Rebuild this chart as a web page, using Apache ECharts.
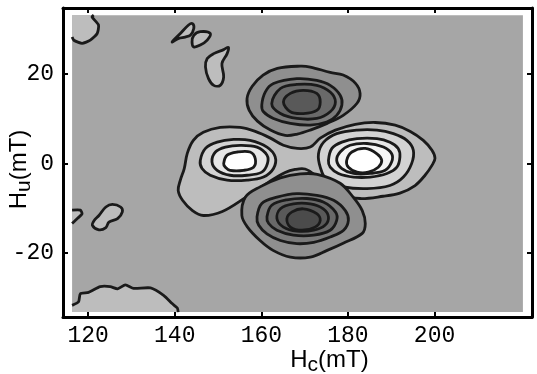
<!DOCTYPE html>
<html>
<head>
<meta charset="utf-8">
<script src="https://cdn.jsdelivr.net/npm/echarts@6/dist/echarts.min.js"></script>
<style>
  html, body { margin: 0; padding: 0; background: #fff; }
  #chart { width: 537px; height: 374px; }
</style>
</head>
<body>
<div id="chart"></div>
<script>
// axis ticks
const xTicks = [120, 140, 160, 180, 200]
const yTicks = [-20, 0, 20]

// extent of the mapped region [Hc], [Hu]
const fieldX = [116.3, 220.4]
const fieldY = [-33.2, 33.2]

// contour outlines, points are [Hc, Hu] in mT
const lightOuter = [[140.8,-6.0],[141.3,-3.7],[142.2,-1.1],[142.9,2.3],[144.3,5.2],[146.6,7.0],[150.5,8.1],[155.1,8.1],[158.6,7.2],[162.1,5.7],[165.1,4.1],[168.3,3.4],[171.3,3.7],[173.6,5.7],[177.1,7.5],[181.7,8.8],[186.3,9.2],[190.9,8.6],[194.4,7.2],[197.4,5.2],[199.4,3.0],[200.1,1.2],[199.4,-0.4],[197.8,-2.6],[195.5,-4.9],[192.0,-6.6],[188.1,-7.3],[182.8,-7.8],[178.2,-6.9],[174.7,-5.1],[172.4,-2.6],[170.1,-1.2],[167.8,-1.3],[165.5,-2.0],[161.6,-4.2],[156.3,-7.6],[151.0,-10.7],[146.6,-11.6],[144.1,-10.5],[141.8,-8.2]]

const leftRing2 = [[145.9,0.7],[147.1,3.4],[149.8,4.8],[153.6,5.4],[157.4,5.2],[161.3,3.7],[163.2,1.5],[162.8,-1.1],[160.5,-3.0],[156.7,-3.7],[152.1,-3.7],[148.2,-2.6],[146.3,-1.1]]
const leftRing3 = [[148.6,0.4],[149.4,2.6],[151.7,3.7],[155.1,4.1],[159.0,3.7],[161.3,1.9],[161.4,0.0],[160.1,-1.9],[156.7,-2.6],[152.8,-2.6],[149.8,-1.5]]
const leftCore = [[151.3,0.0],[152.1,1.9],[154.4,2.6],[157.4,2.6],[158.6,1.1],[158.2,-0.8],[155.9,-1.5],[152.8,-1.5],[151.7,-0.8]]

const rightRing2 = [[173.2,2.2],[174.4,4.8],[177.4,6.7],[182.1,7.5],[186.7,7.5],[190.5,6.7],[193.6,5.2],[195.1,3.0],[194.7,0.0],[192.8,-3.0],[189.7,-4.9],[184.4,-5.6],[179.0,-5.2],[175.1,-3.7],[173.6,-0.8]]
const rightRing3 = [[175.5,0.7],[176.3,3.4],[178.6,4.8],[182.1,5.6],[186.7,5.6],[189.7,4.8],[191.6,3.4],[192.0,1.5],[191.3,-0.8],[189.0,-2.2],[185.1,-3.0],[181.3,-3.0],[177.8,-2.2],[175.9,-0.8]]
const rightRing4 = [[177.4,0.7],[178.2,2.6],[180.5,4.1],[184.4,4.5],[188.2,3.7],[190.1,2.2],[190.1,0.4],[188.6,-1.5],[185.1,-2.2],[181.3,-2.2],[178.6,-1.1]]
const rightCore = [[179.7,0.7],[180.9,2.6],[184.0,3.4],[186.7,2.2],[187.8,0.7],[187.0,-0.8],[184.7,-1.9],[182.1,-1.9],[180.1,-0.8]]

const topRing1 = [[156.7,14.6],[157.9,17.3],[160.4,19.8],[163.7,21.3],[169.0,21.8],[171.3,21.6],[175.9,20.4],[178.9,19.8],[181.7,18.0],[182.8,15.7],[182.1,13.5],[178.9,10.8],[175.2,9.0],[171.3,7.5],[168.3,6.6],[165.5,6.3],[162.1,7.5],[159.1,9.5],[157.2,11.9]]
const topRing2 = [[160.1,13.1],[160.9,16.0],[162.8,17.9],[168.2,19.0],[172.8,18.6],[175.9,17.5],[178.2,15.3],[178.6,13.1],[177.4,10.8],[175.1,9.3],[171.3,8.6],[166.7,9.0],[162.8,10.1],[160.5,11.6]]
const topRing3 = [[162.4,13.4],[164.4,16.8],[168.2,17.7],[172.8,17.5],[175.9,16.0],[177.1,13.8],[175.9,11.6],[172.8,10.1],[168.2,10.1],[164.4,11.2]]
const topCore = [[165.1,13.8],[166.7,15.7],[169.7,16.4],[172.8,15.7],[173.6,13.8],[172.8,11.9],[169.7,11.2],[166.7,11.6]]

const bottomRing1 = [[155.5,-11.6],[156.3,-7.5],[159.7,-5.2],[164.4,-3.2],[169.0,-2.3],[172.9,-2.4],[178.2,-4.4],[181.2,-7.5],[183.3,-10.5],[184.0,-13.4],[183.3,-15.6],[178.9,-17.8],[175.2,-19.4],[171.3,-20.9],[166.7,-20.9],[162.7,-19.4],[159.7,-17.2],[156.8,-14.2]]
const bottomRing2 = [[159.0,-11.9],[160.1,-8.9],[163.6,-7.5],[168.2,-6.7],[172.8,-7.1],[176.7,-8.2],[179.4,-10.5],[180.1,-12.7],[179.0,-14.9],[175.9,-16.4],[172.1,-17.6],[168.2,-17.9],[164.4,-17.2],[161.3,-15.7],[159.4,-13.8]]
const bottomRing3 = [[161.3,-11.9],[162.4,-9.3],[165.9,-8.1],[170.5,-7.8],[174.3,-8.6],[177.1,-10.8],[177.4,-12.7],[175.9,-14.9],[172.1,-16.0],[167.4,-16.0],[163.6,-14.9],[161.7,-13.4]]
const bottomRing4 = [[163.6,-12.3],[164.4,-10.1],[167.4,-9.0],[171.3,-9.0],[174.3,-10.1],[175.5,-11.9],[174.7,-13.8],[172.1,-14.9],[168.2,-15.1],[165.1,-14.2]]
const bottomCore = [[165.9,-12.3],[167.1,-10.8],[169.7,-10.1],[172.8,-11.2],[173.6,-12.7],[172.4,-14.2],[169.4,-14.9],[166.7,-14.2]]

// small noise contours
const cornerTopLeft = [[121.3,33.2],[120.9,32.8],[122.4,31.0],[122.1,29.1],[120.5,27.6],[118.6,26.9],[116.7,27.6],[116.3,28.3]]
const cornerBottomLeft = [[116.3,-31.7],[117.8,-30.9],[118.2,-29.1],[120.1,-28.8],[122.8,-27.5],[125.1,-27.5],[126.8,-28.0],[128.6,-27.1],[130.5,-27.9],[134.4,-27.8],[137.5,-29.5],[139.4,-31.3],[140.6,-32.3],[140.8,-33.2]]
const edgeLeft = [[116.3,-10.4],[118.2,-10.4],[118.6,-11.2],[117.5,-12.3],[116.3,-13.4]]
const blobA = [[139.4,27.2],[141.3,29.1],[143.2,31.0],[144.1,31.3],[144.4,30.2],[143.6,28.7],[142.4,28.3],[140.9,28.0]]
const blobB = [[144.0,27.2],[144.4,28.7],[145.9,29.5],[148.2,29.1],[147.5,27.6],[145.9,26.5],[144.4,26.1]]
const blobC = [[147.5,23.5],[149.0,24.6],[151.3,25.5],[152.4,26.0],[152.1,24.6],[150.9,22.4],[151.3,19.4],[150.5,17.5],[149.0,17.5],[147.8,19.0],[147.1,21.6]]
const blobD = [[122.5,-11.6],[124.1,-9.7],[125.6,-9.1],[127.5,-9.7],[127.9,-10.8],[126.8,-12.3],[124.8,-13.1],[124.1,-14.3],[122.5,-14.8],[121.0,-13.8],[121.4,-12.7]]

// grey shades
const BG = '#a6a6a6'
const LIGHT = ['#bdbdbd', '#d3d3d3', '#e6e6e6', '#f4f4f4', '#ffffff']
const DARK = ['#8f8f8f', '#7b7b7b', '#696969', '#595959', '#4b4b4b']
const LINE = '#1a1a1a'
const LINE_W = 2.8

const layers = [
  { pts: [[fieldX[0], fieldY[0]], [fieldX[1], fieldY[0]], [fieldX[1], fieldY[1]], [fieldX[0], fieldY[1]]], fill: BG, noLine: true },
  { pts: cornerTopLeft, fill: LIGHT[0], corners: [[fieldX[0], fieldY[1]]] },
  { pts: cornerBottomLeft, fill: LIGHT[0], corners: [[fieldX[0], fieldY[0]]] },
  { pts: edgeLeft, fill: LIGHT[0], corners: [] },
  { pts: blobA, fill: LIGHT[0] },
  { pts: blobB, fill: LIGHT[0] },
  { pts: blobC, fill: LIGHT[0] },
  { pts: blobD, fill: LIGHT[0] },
  { pts: lightOuter, fill: LIGHT[0] },
  { pts: leftRing2, fill: LIGHT[1] },
  { pts: leftRing3, fill: LIGHT[2] },
  { pts: leftCore, fill: LIGHT[4] },
  { pts: rightRing2, fill: LIGHT[1] },
  { pts: rightRing3, fill: LIGHT[2] },
  { pts: rightRing4, fill: LIGHT[3] },
  { pts: rightCore, fill: LIGHT[4] },
  { pts: topRing1, fill: DARK[0] },
  { pts: topRing2, fill: DARK[1] },
  { pts: topRing3, fill: DARK[2] },
  { pts: topCore, fill: DARK[3] },
  { pts: bottomRing1, fill: DARK[0] },
  { pts: bottomRing2, fill: DARK[1] },
  { pts: bottomRing3, fill: DARK[2] },
  { pts: bottomRing4, fill: DARK[3] },
  { pts: bottomCore, fill: DARK[4] }
]

const renderItem = (params, api) => {
  const layer = layers[params.dataIndex]
  const pts = layer.pts.map(p => api.coord(p))
  if (layer.noLine) {
    return { type: 'polygon', shape: { points: pts }, style: { fill: layer.fill } }
  }
  if (layer.corners) {
    // region cut by the edge of the map: fill, then only the contour line
    const poly = layer.corners.map(p => api.coord(p)).concat(pts)
    return {
      type: 'group',
      children: [
        { type: 'polygon', shape: { points: poly }, style: { fill: layer.fill } },
        { type: 'polyline', shape: { points: pts, smooth: 0.2 }, style: { fill: null, stroke: LINE, lineWidth: LINE_W } }
      ]
    }
  }
  return {
    type: 'polygon',
    shape: { points: pts, smooth: 0.35 },
    style: { fill: layer.fill, stroke: LINE, lineWidth: LINE_W }
  }
}

const frameLine = { show: true, onZero: false, lineStyle: { color: '#000', width: 3 } }
const tickStyle = { inside: true, length: 5, lineStyle: { color: '#000', width: 2 } }
const subStyle = { fontFamily: 'Liberation Sans', fontSize: 21, padding: [10, 0, 0, 0], color: '#000' }

const chart = echarts.init(document.getElementById('chart'))
chart.setOption({
  animation: false,
  backgroundColor: '#fff',
  grid: { left: 63, right: 5, top: 8, bottom: 57, containLabel: false, outerBoundsMode: 'none' },
  xAxis: [
    {
      type: 'value', position: 'bottom', min: 114.2, max: 222.5,
      axisLine: frameLine,
      axisTick: Object.assign({ customValues: xTicks }, tickStyle),
      axisLabel: {
        customValues: xTicks, color: '#000', fontFamily: 'Liberation Mono',
        fontSize: 23, margin: 7
      },
      splitLine: { show: false },
      name: 'H{s|c}(mT)',
      nameLocation: 'middle',
      nameMoveOverlap: false,
      nameGap: 28,
      nameTextStyle: {
        color: '#000', fontFamily: 'Liberation Sans', fontSize: 24,
        padding: [0, 0, 0, 64],
        rich: { s: subStyle }
      }
    },
    {
      type: 'value', position: 'top', min: 114.2, max: 222.5,
      axisLine: frameLine,
      axisTick: Object.assign({ customValues: xTicks }, tickStyle),
      axisLabel: { show: false },
      splitLine: { show: false }
    }
  ],
  yAxis: [
    {
      type: 'value', position: 'left', min: -34.3, max: 34.8,
      axisLine: frameLine,
      axisTick: Object.assign({ customValues: yTicks }, tickStyle),
      axisLabel: {
        customValues: yTicks, color: '#000', fontFamily: 'Liberation Mono',
        fontSize: 23, margin: 9
      },
      splitLine: { show: false },
      name: 'H{s|u}(mT)',
      nameLocation: 'middle',
      nameMoveOverlap: false,
      nameGap: 28,
      nameTextStyle: {
        color: '#000', fontFamily: 'Liberation Sans', fontSize: 24,
        padding: [0, 14, 0, 0],
        rich: { s: subStyle }
      }
    },
    {
      type: 'value', position: 'right', min: -34.3, max: 34.8,
      axisLine: frameLine,
      axisTick: Object.assign({ customValues: yTicks }, tickStyle),
      axisLabel: { show: false },
      splitLine: { show: false }
    }
  ],
  series: [
    {
      type: 'custom',
      coordinateSystem: 'cartesian2d',
      renderItem: renderItem,
      clip: false,
      silent: true,
      data: layers.map((l, i) => [fieldX[0], fieldY[0], i])
    }
  ]
})
</script>
</body>
</html>
